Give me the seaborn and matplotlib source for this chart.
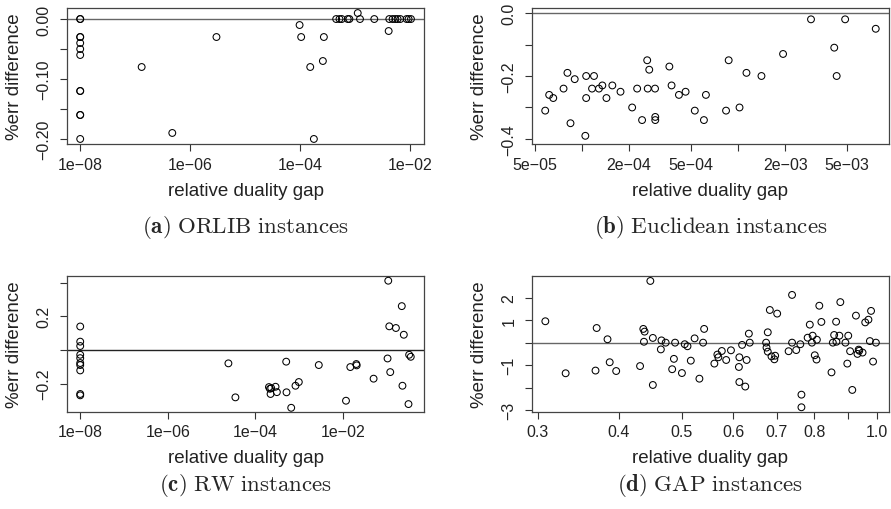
import numpy as np
import pandas as pd
import matplotlib
matplotlib.use("Agg")
import matplotlib.pyplot as plt
import seaborn as sns

# (a) ORLIB instances
orlib_gap = [1e-8, 1e-8, 1e-8, 1e-8, 1e-8, 1e-8, 1e-8, 1e-8, 1e-8, 1e-8, 1e-8, 1e-8,
             1.31e-7, 4.72e-7, 3.00e-6, 9.73e-5, 1.04e-4, 1.52e-4, 1.77e-4, 2.58e-4, 2.69e-4,
             4.50e-4, 5.17e-4, 5.69e-4, 7.31e-4, 7.83e-4, 1.11e-3, 1.22e-3, 2.22e-3,
             4.05e-3, 4.16e-3, 4.78e-3, 5.35e-3, 5.89e-3, 6.59e-3, 8.58e-3, 9.33e-3, 1.03e-2]
orlib_err = [0.0, 0.0, -0.03, -0.03, -0.04, -0.05, -0.06, -0.12, -0.12, -0.16, -0.16, -0.20,
             -0.08, -0.19, -0.03, -0.01, -0.03, -0.08, -0.20, -0.07, -0.03,
             0.0, 0.0, 0.0, 0.0, 0.0, 0.01, 0.0, 0.0,
             -0.02, 0.0, 0.0, 0.0, 0.0, 0.0, 0.0, 0.0, 0.0]

# (b) Euclidean instances
eucl_gap = [5.79e-5, 6.14e-5, 6.52e-5, 7.59e-5, 8.04e-5, 8.41e-5, 8.95e-5, 1.047e-4, 1.06e-4,
            1.06e-4, 1.156e-4, 1.19e-4, 1.28e-4, 1.346e-4, 1.43e-4, 1.56e-4, 1.76e-4, 2.09e-4,
            2.25e-4, 2.42e-4, 2.61e-4, 2.63e-4, 2.69e-4, 2.93e-4, 2.94e-4, 2.94e-4, 3.62e-4,
            3.74e-4, 4.17e-4, 4.60e-4, 5.27e-4, 6.03e-4, 6.21e-4, 8.36e-4, 8.69e-4, 1.02e-3,
            1.13e-3, 1.41e-3, 1.94e-3, 2.93e-3, 4.13e-3, 4.28e-3, 4.85e-3, 7.62e-3]
eucl_err = [-0.31, -0.26, -0.27, -0.24, -0.19, -0.35, -0.21, -0.39, -0.27,
            -0.20, -0.24, -0.20, -0.24, -0.23, -0.27, -0.23, -0.25, -0.30,
            -0.24, -0.34, -0.15, -0.24, -0.18, -0.24, -0.33, -0.34, -0.17,
            -0.23, -0.26, -0.25, -0.31, -0.34, -0.26, -0.31, -0.15, -0.30,
            -0.19, -0.20, -0.13, -0.02, -0.11, -0.20, -0.02, -0.05]

# (c) RW instances
rw_gap = [1e-8, 1e-8, 1e-8, 1e-8, 1e-8, 1e-8, 1e-8, 1e-8, 1e-8, 1e-8,
          2.43e-5, 3.51e-5, 2.05e-4, 2.16e-4, 2.31e-4, 2.23e-4, 2.90e-4, 3.11e-4, 5.08e-4,
          5.16e-4, 6.61e-4, 8.28e-4, 9.86e-4, 2.82e-3, 1.18e-2, 1.48e-2, 2.03e-2, 2.07e-2,
          5.04e-2, 0.105, 0.109, 0.115, 0.121, 0.163, 0.222, 0.230, 0.247, 0.316, 0.327, 0.356]
rw_err = [0.14, 0.05, 0.024, -0.028, -0.048, -0.077, -0.089, -0.121, -0.261, -0.269,
          -0.079, -0.281, -0.220, -0.230, -0.226, -0.261, -0.218, -0.250, -0.069,
          -0.251, -0.343, -0.212, -0.190, -0.089, -0.301, -0.101, -0.083, -0.091,
          -0.170, -0.050, 0.412, 0.141, -0.131, 0.131, 0.261, -0.212, 0.091, -0.321, -0.028, -0.040]

# (d) GAP instances
gap_gap = [0.308, 0.331, 0.3695, 0.368, 0.384, 0.387, 0.396, 0.431, 0.436, 0.438,
           0.437, 0.451, 0.447, 0.451, 0.464, 0.465, 0.472, 0.483, 0.486, 0.488,
           0.500, 0.505, 0.510, 0.516, 0.523, 0.532, 0.539, 0.541, 0.561, 0.567,
           0.569, 0.576, 0.585, 0.595, 0.612, 0.613, 0.613, 0.619, 0.626, 0.629,
           0.634, 0.636, 0.674, 0.675, 0.678, 0.678, 0.683, 0.687, 0.694, 0.696,
           0.701, 0.730, 0.739, 0.739, 0.750, 0.761, 0.764, 0.764, 0.781, 0.787,
           0.793, 0.795, 0.801, 0.806, 0.807, 0.814, 0.820, 0.850, 0.854, 0.858,
           0.864, 0.865, 0.874, 0.877, 0.893, 0.899, 0.902, 0.908, 0.915, 0.927,
           0.932, 0.936, 0.938, 0.949, 0.958, 0.969, 0.974, 0.978, 0.985, 0.995]
gap_err = [0.95, -1.36, 0.65, -1.24, 0.15, -0.87, -1.26, -1.04, 0.61, 0.49,
           0.04, 0.21, 2.74, -1.88, -0.30, 0.10, 0.0, -1.18, -0.72, 0.0,
           -1.35, -0.07, -0.16, -0.80, 0.19, -1.60, 0.0, 0.61, -0.93, -0.53,
           -0.65, -0.37, -0.77, -0.34, -1.08, -1.75, -0.65, -0.10, -1.95, -0.77,
           0.40, 0.0, 0.0, -0.22, 0.46, -0.40, 1.45, -0.61, -0.74, -0.58,
           1.29, -0.38, 2.12, 0.0, -0.33, -0.07, -2.31, -2.87, 0.22, 0.80,
           0.0, 0.31, -0.56, -0.75, 0.13, 1.64, 0.92, -1.32, 0.0, 0.34,
           0.93, 0.04, 0.31, 1.80, 0.0, -0.93, 0.31, -0.38, -2.10, 1.20,
           -0.50, -0.31, -0.36, -0.44, 0.90, 1.02, 0.07, 1.41, -0.84, 0.0]

captions = [("(a)", "ORLIB instances"), ("(b)", "Euclidean instances"),
            ("(c)", "RW instances"), ("(d)", "GAP instances")]

sns.set_style("ticks")
plt.rcParams["font.family"] = ["Liberation Sans", "DejaVu Sans"]
plt.rcParams["mathtext.fontset"] = "cm"

W, H = 891, 510
fig = plt.figure(figsize=(W / 100, H / 100), dpi=100)

# pixel boxes (left, top, right, bottom) and caption centre y
boxes = [(67, 9, 424, 145), (532, 9, 889, 145), (67, 277, 424, 413), (532, 277, 889, 413)]
cap_y = [228, 228, 486, 486]
axes = [fig.add_axes([l / W, 1 - b / H, (r - l) / W, (b - t) / H]) for l, t, r, b in boxes]

panels = [
    (orlib_gap, orlib_err, (10**-8.24, 10**-1.75), (-0.2084, 0.0184),
     [1e-8, 1e-6, 1e-4, 1e-2], ["1e\u221208", "1e\u221206", "1e\u221204", "1e\u221202"],
     [0.0, -0.05, -0.10, -0.15, -0.20], ["0.00", "", "\u22120.10", "", "\u22120.20"], "#666666"),
    (eucl_gap, eucl_err, (10**-4.322, 10**-2.033), (-0.416, 0.016),
     [5e-5, 1e-4, 2e-4, 5e-4, 1e-3, 2e-3, 5e-3],
     ["5e\u221205", "", "2e\u221204", "5e\u221204", "", "2e\u221203", "5e\u221203"],
     [0.0, -0.1, -0.2, -0.3, -0.4], ["0.0", "", "\u22120.2", "", "\u22120.4"], "#666666"),
    (rw_gap, rw_err, (10**-8.302, 10**-0.146), (-0.368, 0.44),
     [1e-8, 1e-6, 1e-4, 1e-2], ["1e\u221208", "1e\u221206", "1e\u221204", "1e\u221202"],
     [-0.2, 0.0, 0.2, 0.4], ["\u22120.2", "", "0.2", ""], "#222222"),
    (gap_gap, gap_err, (10**-0.532, 10**0.018), (-3.08, 2.96),
     [0.3, 0.4, 0.5, 0.6, 0.7, 0.8, 0.9, 1.0],
     ["0.3", "0.4", "0.5", "0.6", "0.7", "0.8", "", "1.0"],
     [-3, -2, -1, 0, 1, 2], ["\u22123", "", "\u22121", "", "1", "2"], "#666666"),
]

for ax, (gx, ey, xl, yl, xt, xtl, yt, ytl, lc), (tag, cap), (l, t, r, b), cy in zip(
        axes, panels, captions, boxes, cap_y):
    df = pd.DataFrame({"gap": gx, "err": ey})
    sns.scatterplot(data=df, x="gap", y="err", ax=ax, marker="o", s=24,
                    facecolors="none", edgecolor="black", linewidth=0.75, zorder=3)
    ax.axhline(0, color=lc, lw=1.0, zorder=2)
    ax.set_xscale("log")
    ax.set_xlim(*xl)
    ax.set_ylim(*yl)
    ax.set_xticks(xt)
    ax.set_xticklabels(xtl)
    ax.xaxis.set_minor_locator(matplotlib.ticker.NullLocator())
    ax.set_yticks(yt)
    ax.set_yticklabels(ytl, rotation=90, va="center")
    ax.tick_params(axis="both", direction="out", length=5, width=0.8, labelsize=11.5,
                   color="#333333", labelcolor="#222222")
    ax.tick_params(axis="x", pad=4)
    ax.tick_params(axis="y", pad=6)
    for sp in ax.spines.values():
        sp.set_visible(True)
        sp.set_color("#444444")
        sp.set_linewidth(0.9)
    ax.set_xlabel("relative duality gap", fontsize=13.5, color="#222222", va="center")
    ax.set_ylabel("%err difference", fontsize=13.5, color="#222222", va="center")
    ax.xaxis.set_label_coords(0.5, -46 / (b - t))
    ax.yaxis.set_label_coords(-52 / (r - l), 0.5)
    fig.text((l + r) / 2 / W, 1 - cy / H,
             r"$\mathbf{" + tag + r"}$ " + r"$\mathrm{" + cap.replace(" ", r"\ ") + r"}$",
             ha="center", va="center", fontsize=16.5)

fig.savefig("out.png", dpi=100)
